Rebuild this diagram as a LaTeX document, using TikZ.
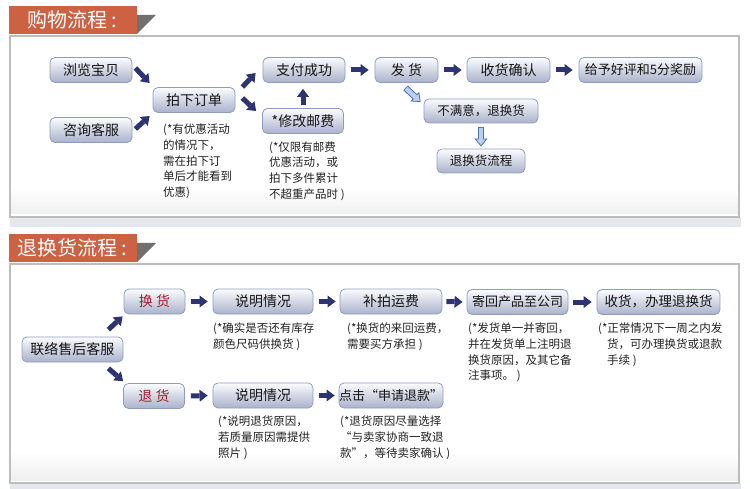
\documentclass[tikz,border=0pt]{standalone}
\usepackage{fontspec}
\setmainfont{Noto Sans CJK SC}
\usetikzlibrary{arrows.meta,calc}
\definecolor{navy}{HTML}{2E3471}
\definecolor{orangeh}{HTML}{CD6143}
\definecolor{triag}{HTML}{707070}
\definecolor{pborder}{HTML}{BDBDBD}
\definecolor{pband}{HTML}{E6E7ED}
\definecolor{pbot}{HTML}{EFEFEF}
\definecolor{nborder}{HTML}{8E9CC0}
\definecolor{ntop}{HTML}{FBFCFE}
\definecolor{nbot}{HTML}{AAB2CB}
\definecolor{redtxt}{HTML}{A51E2A}
\definecolor{ledge}{HTML}{4F72B0}
\definecolor{lfill}{HTML}{B9D1F0}
\definecolor{notetxt}{HTML}{222222}
\definecolor{boxtxt}{HTML}{141414}
\tikzset{
  box/.style={draw=nborder, line width=0.8pt, rounded corners=5pt,
    top color=ntop, bottom color=nbot, minimum height=25pt, inner sep=0pt,
    font=\fontsize{14}{16}\selectfont, text=boxtxt},
  note/.style={anchor=north west, align=left, inner sep=0pt,
    font=\fontsize{11.5}{15.6}\selectfont, text=notetxt},
  blk/.style={draw=navy, line width=5pt,
    -{Triangle[length=8pt,width=12pt,line width=0pt]}},
  lblkout/.style={draw=ledge, line width=6.5pt,
    -{Triangle[length=8pt,width=13pt,line width=0.8pt,fill=lfill]}},
  lblkin/.style={draw=lfill, line width=4.5pt, shorten >=7pt, shorten <=0.8pt},
  header/.style={anchor=west, inner sep=0pt, text=white,
    font=\fontsize{20}{22}\selectfont},
}
\begin{document}
\begin{tikzpicture}[x=1pt,y=-1pt]
\useasboundingbox (0,0) rectangle (750,489);
\fill[white] (0,0) rectangle (750,489);

% ---------- panel 1 ----------
\fill[pband] (10,217) rectangle (741,227);
\fill[white] (10,36) rectangle (739,217);
\shade[top color=white, bottom color=pbot] (11,188) rectangle (738,214);
\draw[pborder, line width=1.8pt] (10,36) rectangle (739,217);
\fill[orangeh] (9,6) rectangle (137,34);
\fill[triag] (137,15) -- (156,15) -- (137,34) -- cycle;
\node[header] (h1) at (27,20) {购物流程 :};

% ---------- panel 2 ----------
\fill[pband] (10,483) rectangle (741,489);
\fill[white] (10,264) rectangle (739,483);
\shade[top color=white, bottom color=pbot] (11,452) rectangle (738,480);
\draw[pborder, line width=1.8pt] (10,264) rectangle (739,483);
\fill[orangeh] (9,234) rectangle (137,262);
\fill[triag] (137,243) -- (156,243) -- (137,262) -- cycle;
\node[header] (h2) at (17,248) {退换货流程 :};

% ---------- section 1 nodes ----------
\node[box, minimum width=82pt] (llbb) at (91,70) {浏览宝贝};
\node[box, minimum width=82pt] (zxkf) at (91,130) {咨询客服};
\node[box, minimum width=82pt] (pxdd) at (194,100) {拍下订单};
\node[box, minimum width=82pt] (zfcg) at (304,70) {支付成功};
\node[box, minimum width=81pt] (xgyf) at (303,121) {*修改邮费};
\node[box, minimum width=63pt] (fh) at (406.5,70) {发 货};
\node[box, minimum width=83pt] (shqr) at (508.5,70) {收货确认};
\node[box, minimum width=123pt, font=\fontsize{13}{15}\selectfont] (gyhp) at (640.5,70) {给予好评和5分奖励};
\node[box, minimum width=114pt, minimum height=24pt, font=\fontsize{12.5}{15}\selectfont] (bmy) at (481,111) {不满意，退换货};
\node[box, minimum width=88pt, minimum height=24pt, font=\fontsize{12.5}{15}\selectfont] (thhlc) at (481,161) {退换货流程};

\node[note] (n1) at (163,124) {(*有优惠活动\\的情况下，\\需在拍下订\\单后才能看到\\优惠)};
\node[note] (n2) at (269,141.5) {(*仅限有邮费\\优惠活动，或\\拍下多件累计\\不超重产品时 )};

% section 1 arrows
\draw[blk] ($(llbb.east)+(3,-2)$) -- ($(pxdd.west)+(-3,-17)$);
\draw[blk] ($(zxkf.east)+(3,-1)$) -- ($(pxdd.west)+(-3,16)$);
\draw[blk] ($(pxdd.east)+(7,-13)$) -- ($(zfcg.west)+(-7,3)$);
\draw[blk] ($(pxdd.east)+(7,-2)$) -- ($(xgyf.west)+(-6,-10)$);
\draw[blk] ($(xgyf.north)+(0,-3)$) -- ($(xgyf.north |- zfcg.south)+(0,6)$);
\draw[blk] ($(zfcg.east)+(6,0)$) -- ($(fh.west)+(-6,0)$);
\draw[blk] ($(fh.east)+(6,0)$) -- ($(shqr.west)+(-5,0)$);
\draw[blk] ($(shqr.east)+(6,0)$) -- ($(gyhp.west)+(-6,0)$);

\draw[lblkout] ($(fh.south)+(-1,5)$) -- ($(bmy.west)+(-3,-9)$);
\draw[lblkin]  ($(fh.south)+(-1,5)$) -- ($(bmy.west)+(-3,-9)$);
\draw[lblkout] ($(bmy.south)+(0,4)$) -- ($(thhlc.north)+(0,-2)$);
\draw[lblkin]  ($(bmy.south)+(0,4)$) -- ($(thhlc.north)+(0,-2)$);

% ---------- section 2 nodes ----------
\node[box, minimum width=101pt] (lxsh) at (72.5,349.5) {联络售后客服};
\node[box, minimum width=61pt, text=redtxt] (hh) at (154.5,301.5) {换 货};
\node[box, minimum width=61pt, text=redtxt] (th) at (154,396) {退 货};
\node[box, minimum width=100pt] (smqka) at (263,301.5) {说明情况};
\node[box, minimum width=102pt] (bpyf) at (391,301.5) {补拍运费};
\node[box, minimum width=101pt, font=\fontsize{13}{15}\selectfont] (jhcp) at (517.5,302) {寄回产品至公司};
\node[box, minimum width=123pt, font=\fontsize{13.5}{15}\selectfont] (shbl) at (658.5,302) {收货，办理退换货};
\node[box, minimum width=100pt] (smqkb) at (263,395.5) {说明情况};
\node[box, minimum width=102pt, font=\fontsize{13}{15}\selectfont] (djsq) at (391,395.5) {点击“申请退款”};

\node[note] (n3) at (213,322.5) {(*确实是否还有库存\\颜色尺码供换货 )};
\node[note] (n4) at (347,322.5) {(*换货的来回运费，\\需要买方承担 )};
\node[note] (n5) at (468,323) {(*发货单一并寄回，\\并在发货单上注明退\\换货原因，及其它备\\注事项。 )};
\node[note] (n6) at (598,323) {(*正常情况下一周之内发\\\hspace*{9pt}货，可办理换货或退款\\\hspace*{9pt}手续 )};
\node[note] (n7) at (218,416) {(*说明退货原因，\\若质量原因需提供\\照片 )};
\node[note] (n8) at (340,416) {(*退货原因尽量选择\\“与卖家协商一致退\\款”，等待卖家确认 )};

% section 2 arrows
\draw[blk] ($(lxsh.north east)+(-15,-7)$) -- ($(hh.south west)+(-1,2)$);
\draw[blk] ($(lxsh.south east)+(-15,6)$) -- ($(th.north west)+(0,-2)$);
\draw[blk] ($(hh.east)+(6,0)$) -- ($(smqka.west)+(-5,0)$);
\draw[blk] ($(smqka.east)+(6,0)$) -- ($(bpyf.west)+(-4,0)$);
\draw[blk] ($(bpyf.east)+(4,0)$) -- ($(jhcp.west)+(-4,0)$);
\draw[blk] ($(jhcp.east)+(5,0)$) -- ($(shbl.west)+(-5,0)$);
\draw[blk] ($(th.east)+(6,0)$) -- ($(smqkb.west)+(-5,0)$);
\draw[blk] ($(smqkb.east)+(6,0)$) -- ($(djsq.west)+(-4,0)$);
\end{tikzpicture}
\end{document}
